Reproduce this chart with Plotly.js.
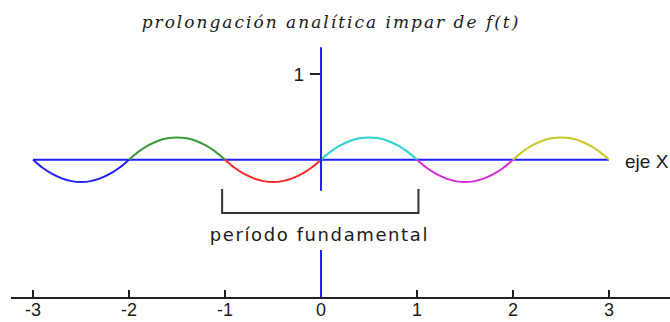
<!DOCTYPE html>
<html>
<head>
<meta charset="utf-8">
<script src="https://cdn.plot.ly/plotly-3.0.1.min.js"></script>
<style>
  html, body { margin: 0; padding: 0; background: #fff; }
  #chart { width: 670px; height: 322px; }
  .annotation[data-index="1"] text { letter-spacing: 1.6px; }
  .gtitle { letter-spacing: 2px; }
</style>
</head>
<body>
<div id="chart"></div>
<script>
// ---- data ----
const chartTitle = "prolongación analítica impar de f(t)";
const xTickVals = [-3, -2, -1, 0, 1, 2, 3];
const xTickText = ["-3", "-2", "-1", "0", "1", "2", "3"];
const yTickVals = [1];
const yTickText = ["1"];
const axisLabelX = "eje X";
const periodLabel = "período fundamental";

// six arcs of the odd extension, sampled every 0.1
const tSeg1 = [-3, -2.9, -2.8, -2.7, -2.6, -2.5, -2.4, -2.3, -2.2, -2.1, -2];
const ySeg1 = [0, -0.094, -0.166, -0.218, -0.25, -0.26, -0.25, -0.218, -0.166, -0.094, 0];
const tSeg2 = [-2, -1.9, -1.8, -1.7, -1.6, -1.5, -1.4, -1.3, -1.2, -1.1, -1];
const ySeg2 = [0, 0.094, 0.166, 0.218, 0.25, 0.26, 0.25, 0.218, 0.166, 0.094, 0];
const tSeg3 = [-1, -0.9, -0.8, -0.7, -0.6, -0.5, -0.4, -0.3, -0.2, -0.1, 0];
const ySeg3 = [0, -0.094, -0.166, -0.218, -0.25, -0.26, -0.25, -0.218, -0.166, -0.094, 0];
const tSeg4 = [0, 0.1, 0.2, 0.3, 0.4, 0.5, 0.6, 0.7, 0.8, 0.9, 1];
const ySeg4 = [0, 0.094, 0.166, 0.218, 0.25, 0.26, 0.25, 0.218, 0.166, 0.094, 0];
const tSeg5 = [1, 1.1, 1.2, 1.3, 1.4, 1.5, 1.6, 1.7, 1.8, 1.9, 2];
const ySeg5 = [0, -0.094, -0.166, -0.218, -0.25, -0.26, -0.25, -0.218, -0.166, -0.094, 0];
const tSeg6 = [2, 2.1, 2.2, 2.3, 2.4, 2.5, 2.6, 2.7, 2.8, 2.9, 3];
const ySeg6 = [0, 0.094, 0.166, 0.218, 0.25, 0.26, 0.25, 0.218, 0.166, 0.094, 0];
const segColors = ["#2222ff", "#3a9a3a", "#ff2a2a", "#2ed2d2", "#d62ed6", "#c8c828"];

// horizontal blue axis line (t from -3 to 3 at zero)
const baseT = [-3, 3];
const baseY = [0, 0];

// ---- build traces ----
const segs = [[tSeg1, ySeg1], [tSeg2, ySeg2], [tSeg3, ySeg3], [tSeg4, ySeg4], [tSeg5, ySeg5], [tSeg6, ySeg6]];
const traces = [{
  x: baseT, y: baseY, mode: "lines", type: "scatter",
  line: {color: "#2020ff", width: 2}, hoverinfo: "skip", showlegend: false
}];
segs.forEach((s, i) => {
  traces.push({
    x: s[0], y: s[1], mode: "lines", type: "scatter",
    line: {color: segColors[i], width: 2, shape: "spline"},
    hoverinfo: "skip", showlegend: false
  });
});

const ink = "#1a1a1a";
const layout = {
  width: 670, height: 322,
  margin: {l: 11, r: 0, t: 0, b: 25, pad: 0},
  paper_bgcolor: "#ffffff", plot_bgcolor: "#ffffff",
  showlegend: false,
  title: {
    text: chartTitle,
    font: {family: "DejaVu Serif", size: 17, style: "italic", color: ink},
    x: 0.494, xanchor: "center", xref: "container",
    y: 0.93, yanchor: "middle", yref: "container"
  },
  xaxis: {
    range: [-3.229, 3.635], fixedrange: true,
    showgrid: false, zeroline: false,
    showline: true, linecolor: "#222", linewidth: 2,
    ticks: "inside", ticklen: 7, tickwidth: 1.5, tickcolor: "#222",
    tickvals: xTickVals, ticktext: xTickText,
    tickfont: {family: "Liberation Sans", size: 18, color: ink},
    ticklabelstandoff: -5
  },
  yaxis: {
    range: [-1.602, 1.8635], fixedrange: true,
    showgrid: false, zeroline: false, showline: false,
    anchor: "free", position: 0.4704,
    ticks: "outside", ticklen: 11, tickwidth: 1.5, tickcolor: "#222",
    tickvals: yTickVals, ticktext: yTickText,
    tickfont: {family: "Liberation Sans", size: 19, color: ink},
    ticklabelstandoff: 2
  },
  shapes: [
    // vertical blue axis, upper part
    {type: "line", xref: "x", yref: "y", x0: 0, x1: 0, y0: 1.312, y1: -0.362,
     line: {color: "#2020ff", width: 2}},
    // vertical blue axis, lower part
    {type: "line", xref: "x", yref: "y", x0: 0, x1: 0, y0: -1.054, y1: -1.602,
     line: {color: "#2020ff", width: 2}},
    // bracket for the fundamental period
    {type: "path", xref: "x", yref: "y",
     path: "M -1.03 -0.342 L -1.03 -0.622 L 1.015 -0.622 L 1.015 -0.342",
     line: {color: "#333", width: 2}}
  ],
  annotations: [
    {text: axisLabelX, xref: "paper", yref: "y", x: 0.928, y: 0,
     xanchor: "left", yanchor: "middle", yshift: -2, showarrow: false,
     font: {family: "Liberation Sans", size: 19, color: ink}},
    {text: periodLabel, xref: "x", yref: "y", x: 0, y: -0.873,
     xanchor: "center", yanchor: "middle", xshift: -1.5, showarrow: false,
     font: {family: "DejaVu Sans", size: 18, color: ink}}
  ]
};

Plotly.newPlot("chart", traces, layout, {displayModeBar: false, staticPlot: true});
</script>
</body>
</html>
